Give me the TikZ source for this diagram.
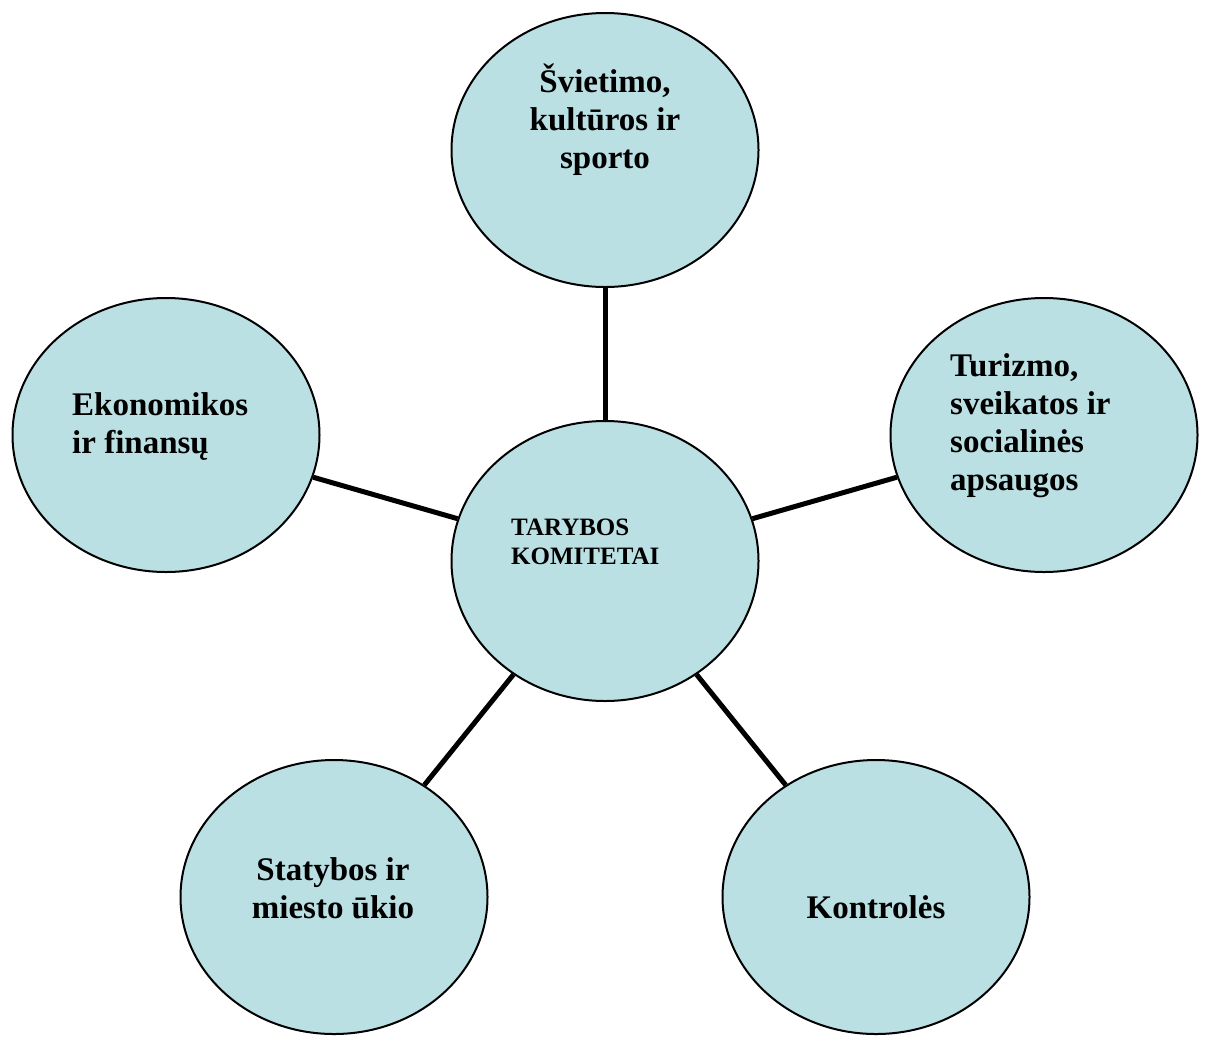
\documentclass[tikz,border=0pt]{standalone}
\usepackage{fontspec}
\setmainfont{Liberation Serif}
\usetikzlibrary{shapes.geometric}
\definecolor{bub}{HTML}{BBE0E3}
\begin{document}
\begin{tikzpicture}[x=1pt,y=-1pt,
  bubble/.style={ellipse,draw=black,line width=2pt,fill=bub,minimum width=307pt,minimum height=274pt,inner sep=0pt},
  link/.style={line width=5pt,black},
  lbl/.style={inner sep=0pt,font=\fontsize{33}{38}\selectfont\bfseries},
  clbl/.style={inner sep=0pt,font=\fontsize{25}{28.5}\selectfont\bfseries}]
\useasboundingbox (0,0) rectangle (1209,1037);
\node[bubble] (top) at (605,150) {};
\node[bubble,minimum height=280pt] (mid) at (605,561) {};
\node[bubble] (left) at (166,435) {};
\node[bubble] (right) at (1044,435) {};
\node[bubble] (bl) at (334,897) {};
\node[bubble] (br) at (876,897) {};
\draw[link] (mid) -- (top);
\draw[link] (mid) -- (left);
\draw[link] (mid) -- (right);
\draw[link] (mid) -- (bl);
\draw[link] (mid) -- (br);
\node[lbl,align=center] (toptxt) at (605,120) {Švietimo,\\kultūros ir\\sporto};
\node[lbl,align=left,anchor=west] (lefttxt) at (72,427) {Ekonomikos\\ir finansų};
\node[lbl,align=left,anchor=west] (righttxt) at (950,426) {Turizmo,\\sveikatos ir\\socialinės\\apsaugos};
\node[lbl,align=center] (bltxt) at (333,888) {Statybos ir\\miesto ūkio};
\node[lbl,align=center] (brtxt) at (876,907) {Kontrolės};
\node[clbl,align=left,anchor=west] (midtxt) at (511,542) {TARYBOS\\KOMITETAI};
\end{tikzpicture}
\end{document}
